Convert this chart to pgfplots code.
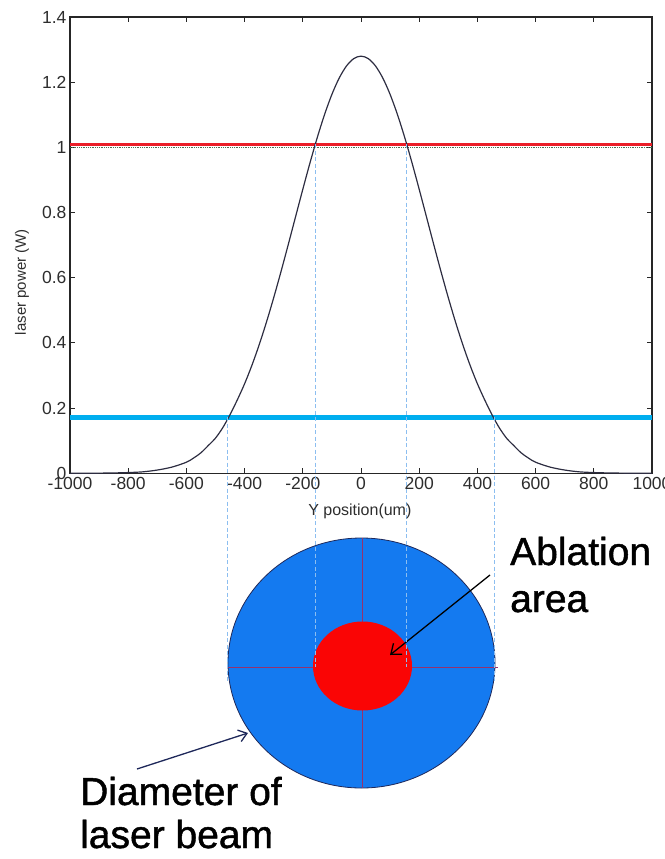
\documentclass[border=0pt]{standalone}
\usepackage{fontspec}
\setmainfont{Liberation Sans}
\newfontfamily\annfont[FakeBold=1.2]{Liberation Sans}
\usepackage{pgfplots}
\pgfplotsset{compat=1.18}
\usetikzlibrary{arrows.meta}
\definecolor{beamblue}{RGB}{20,122,240}
\definecolor{ablred}{RGB}{250,5,5}
\definecolor{crossc}{RGB}{150,50,110}
\definecolor{outline}{RGB}{30,40,90}
\definecolor{dashc}{RGB}{140,190,240}
\definecolor{thrblue}{RGB}{0,174,239}
\definecolor{thrred}{RGB}{235,30,40}
\definecolor{dotc}{RGB}{80,110,80}
\definecolor{labc}{RGB}{45,45,45}
\definecolor{curvec}{RGB}{45,45,65}
\begin{document}
\begin{tikzpicture}[x=1pt,y=1pt]
\path[use as bounding box] (0,0) rectangle (664,-859);
% beam cross-section sketch
\fill[beamblue] (361.5,-663) ellipse [x radius=133.5, y radius=125];
\draw[outline, line width=0.8pt] (361.5,-663) ellipse [x radius=133.5, y radius=125];
\draw[crossc, line width=0.9pt] (227,-667) -- (498,-667);
\draw[crossc, line width=0.9pt] (362,-538) -- (362,-788);
\fill[ablred] (362.5,-666) ellipse [x radius=49.5, y radius=44.5];
\draw[black, line width=1.3pt, -{Straight Barb[length=9pt,width=14pt]}] (490,-575) -- (390,-655);
\draw[outline, line width=1.3pt, -{Straight Barb[length=8pt,width=12pt]}] (137,-769) -- (248,-733);
\node[anchor=base west, inner sep=0pt, font=\annfont\fontsize{39}{39}\selectfont] at (510,-565) {Ablation};
\node[anchor=base west, inner sep=0pt, font=\annfont\fontsize{39}{39}\selectfont] at (510,-612) {area};
\node[anchor=base west, inner sep=0pt, font=\annfont\fontsize{39}{39}\selectfont] at (80,-805) {Diameter of};
\node[anchor=base west, inner sep=0pt, font=\annfont\fontsize{39}{39}\selectfont] at (80,-848) {laser beam};
\begin{axis}[
  at={(70pt,-473.3pt)}, anchor=south west,
  scale only axis, width=582pt, height=456.3pt,
  xmin=-1000, xmax=1000, ymin=0, ymax=1.4,
  xtick={-1000,-800,-600,-400,-200,0,200,400,600,800,1000},
  ytick={0,0.2,0.4,0.6,0.8,1,1.2,1.4},
  scaled ticks=false,
  /pgf/number format/1000 sep={},
  /pgf/number format/assume math mode=true,
  tick align=inside,
  xtick pos=both, ytick pos=both,
  xticklabel pos=lower, yticklabel pos=left,
  major tick length=5pt,
  axis line style={line width=1.2pt, black!85},
  tick style={line width=1pt, black!85},
  ticklabel style={font=\fontsize{17.5}{17.5}\selectfont, text=labc},
  xlabel={Y position(um)},
  ylabel={laser power (W)},
  xlabel style={at={(axis description cs:0.498,-0.0826)}, anchor=center, font=\fontsize{16}{16}\selectfont, text=labc},
  ylabel style={at={(axis description cs:-0.0825,0.419)}, anchor=center, rotate=0, font=\fontsize{15}{15}\selectfont, text=labc},
  clip=false,
]
\addplot[dotc, densely dotted, line width=0.8pt] coordinates {(-1000,1.0) (1000,1.0)};
\addplot[thrred, line width=3pt] coordinates {(-1000,1.01) (1000,1.01)};
\addplot[thrblue, line width=5pt] coordinates {(-1000,0.172) (1000,0.172)};
\addplot[curvec, line width=1.2pt, smooth] coordinates {
(-1000,0.0001) (-950,0.0002) (-900,0.0005) (-850,0.0011) (-800,0.0023) (-750,0.0045)
(-700,0.0100) (-650,0.0190) (-600,0.0340) (-575,0.0470) (-550,0.0630) (-525,0.0850)
(-500,0.1080) (-475,0.1400) (-450,0.1800) (-425,0.2254) (-400,0.2748) (-375,0.3311)
(-350,0.3941) (-325,0.4636) (-300,0.5388) (-275,0.6186) (-250,0.7018) (-225,0.7867)
(-200,0.8713) (-175,0.9535) (-150,1.0310) (-125,1.1014) (-100,1.1626) (-75,1.2126)
(-50,1.2496) (-25,1.2723) (0,1.2800)
(25,1.2723) (50,1.2496) (75,1.2126) (100,1.1626) (125,1.1014) (150,1.0310)
(175,0.9535) (200,0.8713) (225,0.7867) (250,0.7018) (275,0.6186) (300,0.5388)
(325,0.4636) (350,0.3941) (375,0.3311) (400,0.2748) (425,0.2254) (450,0.1800)
(475,0.1400) (500,0.1080) (525,0.0850) (550,0.0630) (575,0.0470) (600,0.0340)
(650,0.0190) (700,0.0100) (750,0.0045) (800,0.0023) (850,0.0011) (900,0.0005)
(950,0.0002) (1000,0.0001)
};
\draw[dashc, line width=1pt, dash pattern=on 4pt off 2.5pt] (axis cs:-460,0.172) -- (axis cs:-460,-0.640);
\draw[dashc, line width=1pt, dash pattern=on 4pt off 2.5pt] (axis cs:460,0.172) -- (axis cs:460,-0.640);
\draw[dashc, line width=1pt, dash pattern=on 4pt off 2.5pt] (axis cs:-158,1.01) -- (axis cs:-158,-0.594);
\draw[dashc, line width=1pt, dash pattern=on 4pt off 2.5pt] (axis cs:158,1.01) -- (axis cs:158,-0.594);
\end{axis}
\end{tikzpicture}
\end{document}
